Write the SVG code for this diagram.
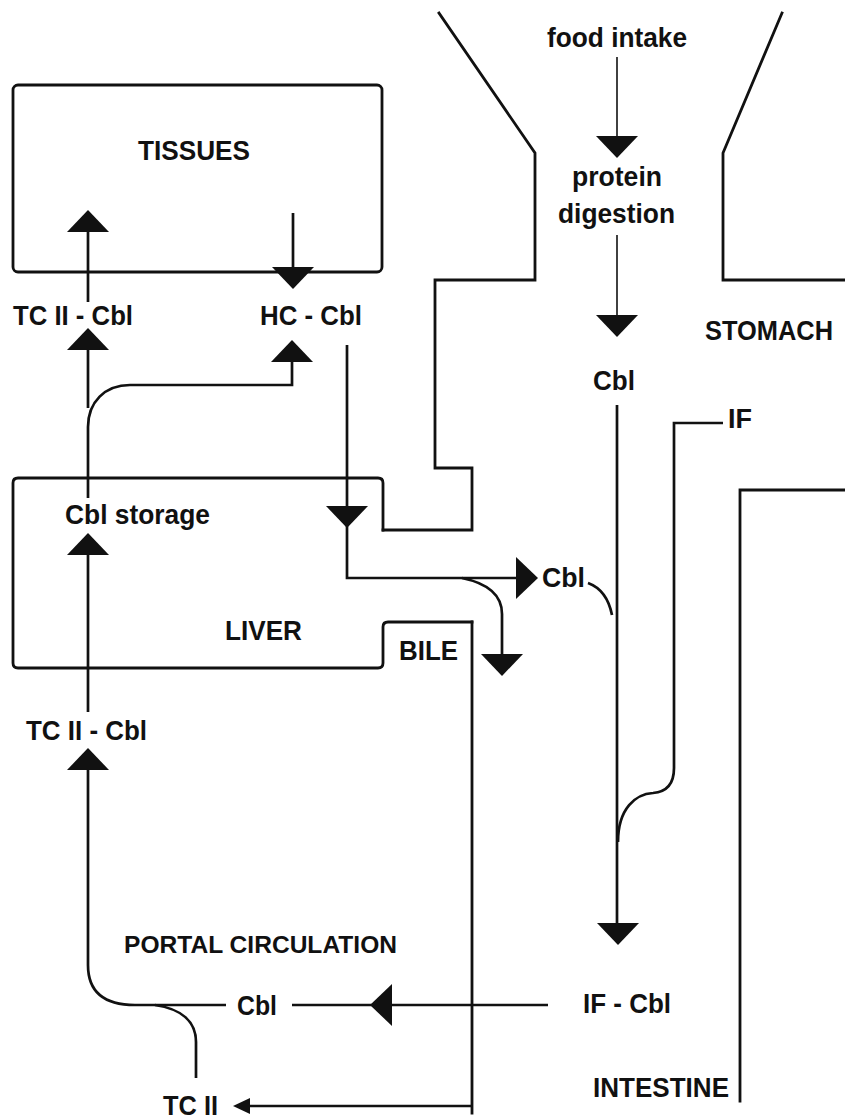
<svg xmlns="http://www.w3.org/2000/svg" width="845" height="1119" viewBox="0 0 845 1119">
<style>
.wall{fill:none;stroke:#111;stroke-width:2.8;stroke-linejoin:miter;stroke-linecap:square}
.ln{fill:none;stroke:#111;stroke-width:2.7;stroke-linecap:butt;stroke-linejoin:miter}
.thin{fill:none;stroke:#111;stroke-width:1.6}
.ah{fill:#111;stroke:none}
text{font-family:"Liberation Sans",Arial,Helvetica,sans-serif;font-weight:bold;font-size:28px;fill:#111}
.sm{font-size:24px}
</style>
<defs>
<path id="ah" d="M0,0 L-21,-22 L21,-22 Z"/>
<path id="ahs" d="M0,0 L-8,-17 L8,-17 Z"/>
</defs>
<rect width="845" height="1119" fill="#fff"/>

<g id="tissues">
<rect class="wall" x="13" y="85" width="369" height="187" rx="5" style="stroke-linecap:butt"/>
<text x="138" y="160" textLength="112" lengthAdjust="spacingAndGlyphs">TISSUES</text>
</g>

<g id="stomach">
<path class="wall" d="M439,13 L535,153 V280 H435 V468 H472 V530 H383"/>
<path class="wall" d="M782,13 L723,153 V280 H845"/>
<text x="705" y="340" textLength="128" lengthAdjust="spacingAndGlyphs">STOMACH</text>
</g>

<g id="liver">
<path class="wall" d="M383,530 V483 Q383,478 378,478 H18 Q13,478 13,483 V663 Q13,668 18,668 H378 Q383,668 383,663 V627 Q383,622 388,622 H472"/>
<text x="225" y="640" textLength="77" lengthAdjust="spacingAndGlyphs">LIVER</text>
<text x="65" y="524" textLength="145" lengthAdjust="spacingAndGlyphs">Cbl storage</text>
</g>

<g id="bile">
<text x="399" y="660" textLength="59" lengthAdjust="spacingAndGlyphs">BILE</text>
</g>

<g id="intestine">
<path class="wall" d="M472,622 V1113"/>
<path class="wall" d="M845,490 H740 V1101"/>
<text x="593" y="1097" textLength="136" lengthAdjust="spacingAndGlyphs">INTESTINE</text>
</g>

<g id="portal">
<text class="sm" x="124" y="953" textLength="273" lengthAdjust="spacingAndGlyphs">PORTAL CIRCULATION</text>
</g>

<g id="labels">
<g id="food-intake"><text x="547" y="47" textLength="140" lengthAdjust="spacingAndGlyphs">food intake</text></g>
<g id="protein-digestion">
<text x="572" y="186" textLength="90" lengthAdjust="spacingAndGlyphs">protein</text>
<text x="558" y="223" textLength="117" lengthAdjust="spacingAndGlyphs">digestion</text>
</g>
<g id="cbl-stomach"><text x="593" y="390" textLength="42" lengthAdjust="spacingAndGlyphs">Cbl</text></g>
<g id="if"><text x="728" y="428" textLength="24" lengthAdjust="spacingAndGlyphs">IF</text></g>
<g id="tc2cbl-top"><text x="13" y="325" textLength="120" lengthAdjust="spacingAndGlyphs">TC II - Cbl</text></g>
<g id="hccbl"><text x="260" y="325" textLength="102" lengthAdjust="spacingAndGlyphs">HC - Cbl</text></g>
<g id="cbl-bile"><text x="542" y="587" textLength="43" lengthAdjust="spacingAndGlyphs">Cbl</text></g>
<g id="tc2cbl-low"><text x="26" y="740" textLength="121" lengthAdjust="spacingAndGlyphs">TC II - Cbl</text></g>
<g id="cbl-portal"><text x="237" y="1015" textLength="40" lengthAdjust="spacingAndGlyphs">Cbl</text></g>
<g id="ifcbl"><text x="583" y="1013" textLength="88" lengthAdjust="spacingAndGlyphs">IF - Cbl</text></g>
<g id="tc2"><text x="163" y="1115" textLength="55" lengthAdjust="spacingAndGlyphs">TC II</text></g>
</g>

<g id="connectors">
<path class="thin" d="M617,57 V137"/>
<path class="thin" d="M617,235 V317"/>
<path class="ln" d="M88,232 V302"/>
<path class="ln" d="M88,350 V408"/>
<path class="ln" d="M88,498 V427 C88,402 105,385 130,385 H292 V362"/>
<path class="ln" d="M293,213 V268"/>
<path class="ln" d="M347,345 V578 H517"/>
<path class="ln" d="M462,578 C486,583 502,594 502,614 V655"/>
<path class="ln" d="M588,583 Q607,590 612,615"/>
<path class="ln" d="M723,423 H674 V768 C674,785 665,792 653,793 C636,794 618,808 618,842"/>
<path class="ln" d="M617,405 V923"/>
<path class="ln" d="M88,555 V712"/>
<path class="ln" d="M88,770 V965 C88,993 105,1005 135,1005 H226"/>
<path class="ln" d="M155,1005 C182,1009 196,1022 196,1042 V1078"/>
<path class="ln" d="M292,1005 H548"/>
<path class="ln" d="M472,1106 H248"/>
<use href="#ah" class="ah" transform="translate(617,158)"/>
<use href="#ah" class="ah" transform="translate(617,337)"/>
<use href="#ah" class="ah" transform="translate(88,210) rotate(180)"/>
<use href="#ah" class="ah" transform="translate(88,328) rotate(180)"/>
<use href="#ah" class="ah" transform="translate(292,340) rotate(180)"/>
<use href="#ah" class="ah" transform="translate(293,289)"/>
<use href="#ah" class="ah" transform="translate(347,528)"/>
<use href="#ah" class="ah" transform="translate(538,578) rotate(-90)"/>
<use href="#ah" class="ah" transform="translate(502,676)"/>
<use href="#ah" class="ah" transform="translate(88,533) rotate(180)"/>
<use href="#ah" class="ah" transform="translate(88,748) rotate(180)"/>
<use href="#ah" class="ah" transform="translate(618,945)"/>
<use href="#ah" class="ah" transform="translate(370,1005) rotate(90)"/>
<use href="#ahs" class="ah" transform="translate(233,1106) rotate(90)"/>
</g>
</svg>
